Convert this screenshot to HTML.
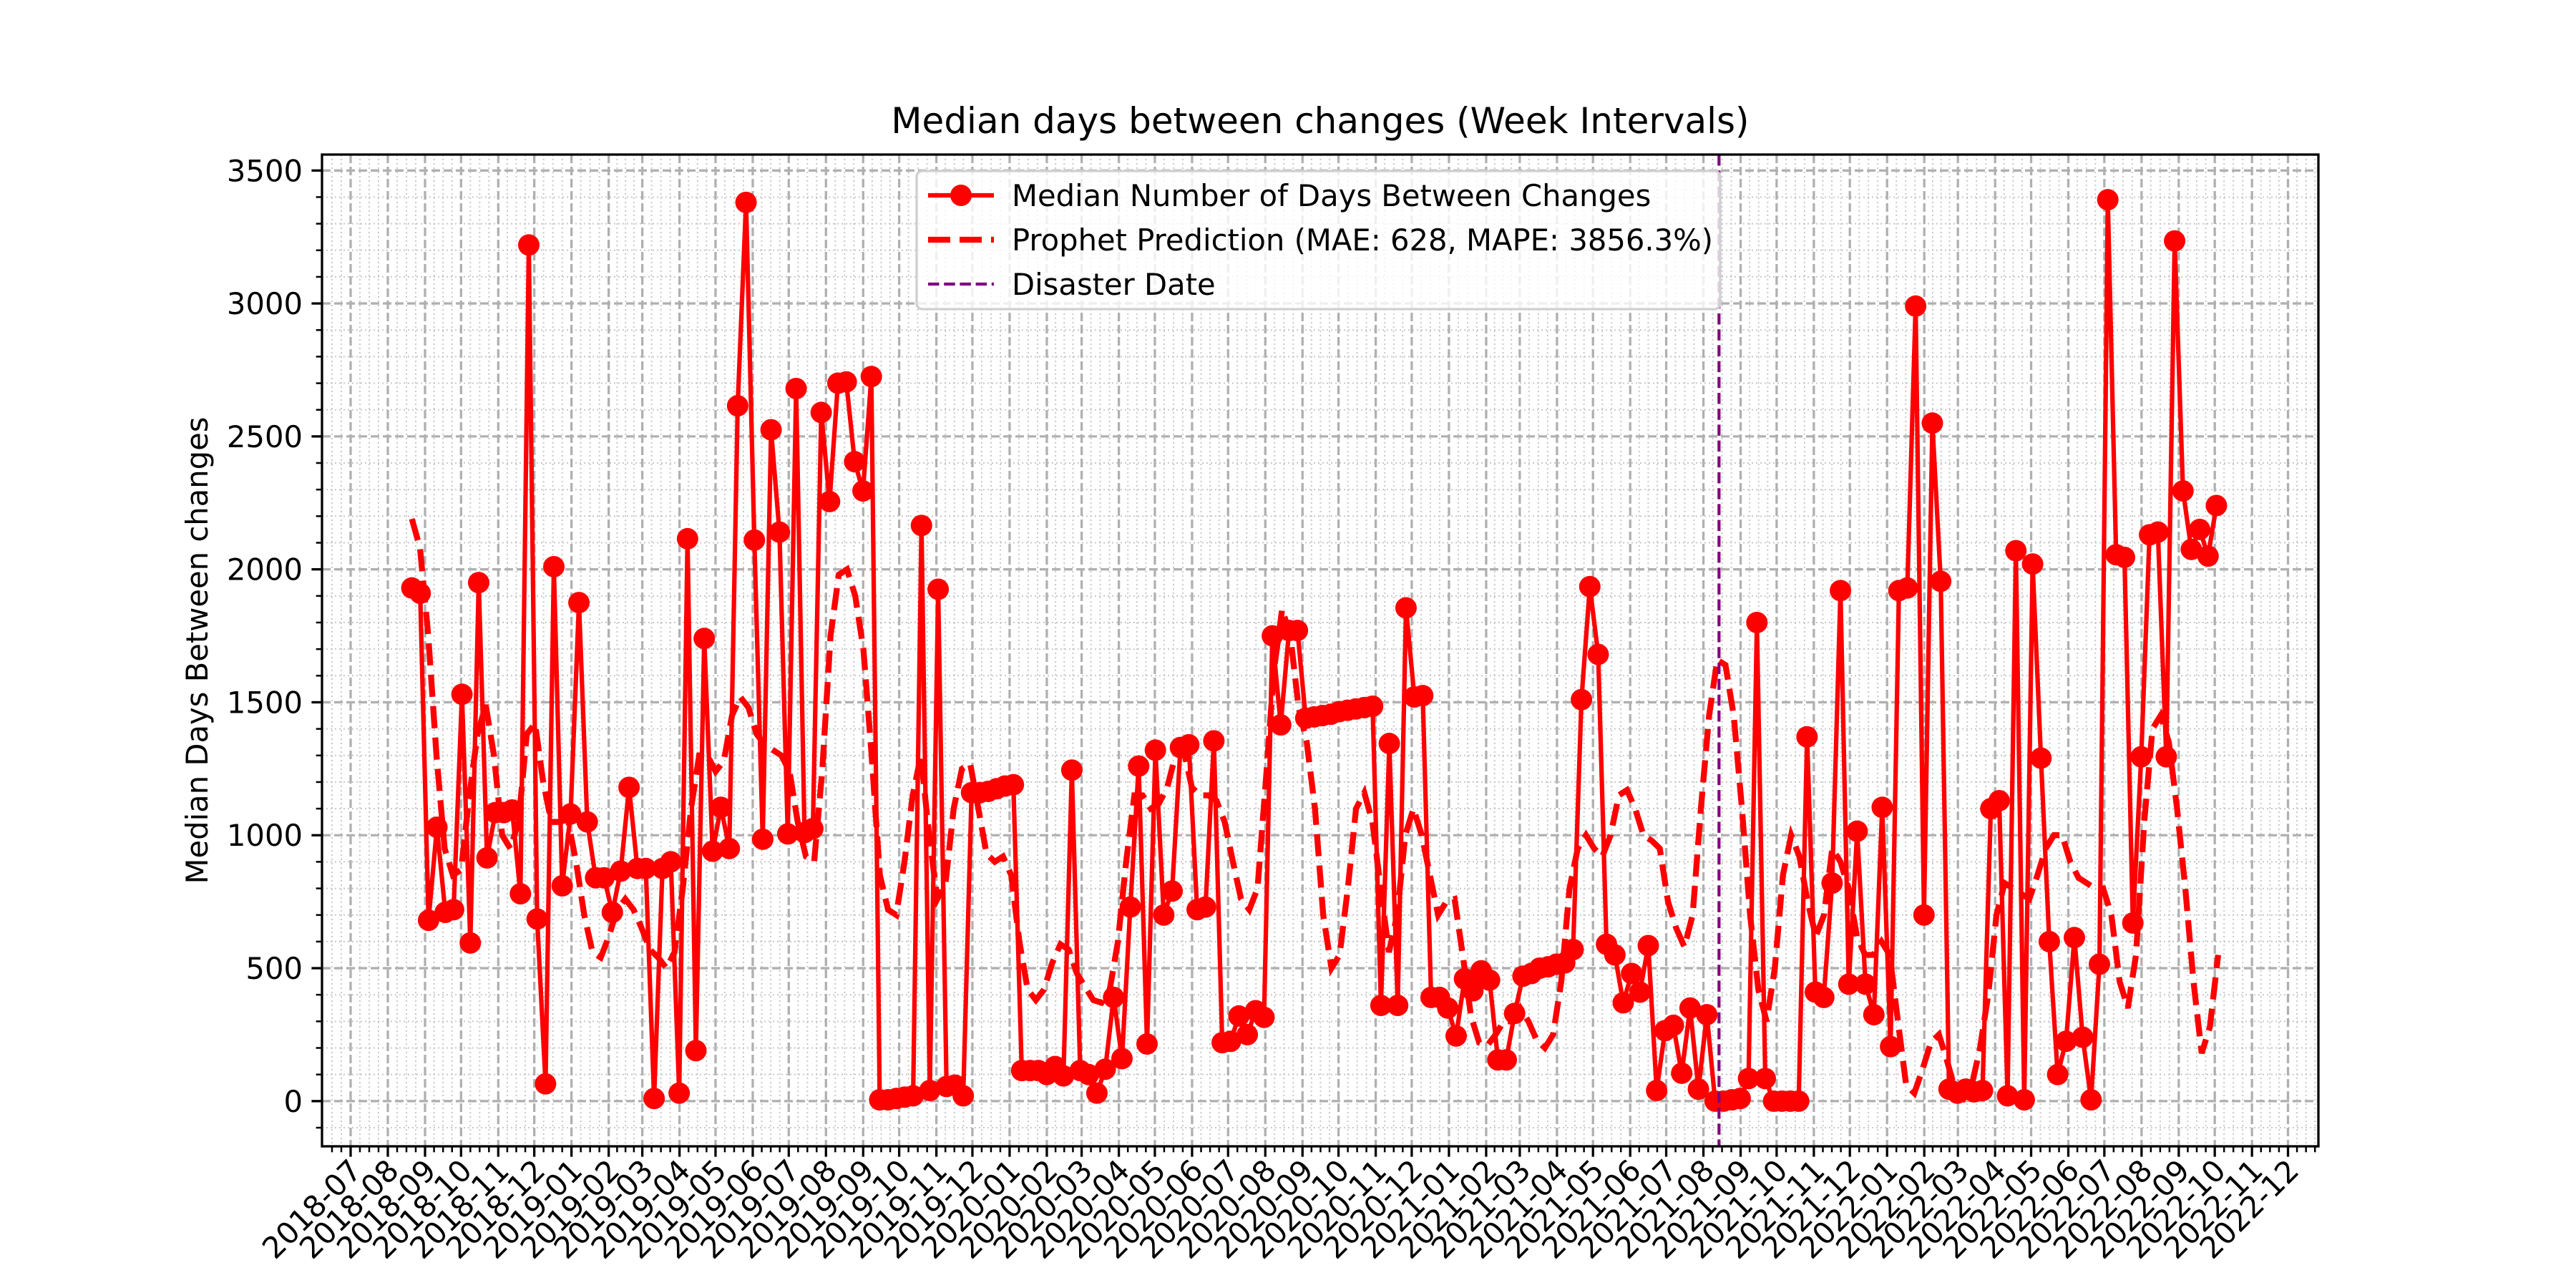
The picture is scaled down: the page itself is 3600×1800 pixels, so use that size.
<!DOCTYPE html>
<html><head><meta charset="utf-8"><style>
html,body{margin:0;padding:0;background:#fff;}
svg{display:block;font-family:"DejaVu Sans","Liberation Sans",sans-serif;}
</style></head><body>
<svg id="chart" width="3600" height="1800" viewBox="0 0 3600 1800" xmlns="http://www.w3.org/2000/svg">
<rect x="0" y="0" width="3600" height="1800" fill="#fff"/>
<text x="1845" y="186" font-size="50" text-anchor="middle">Median days between changes (Week Intervals)</text>
<text transform="translate(290,909) rotate(-90)" font-size="41.7" text-anchor="middle">Median Days Between changes</text>
<g id="grid"></g><g id="series"></g><g id="axes"></g>
</svg>
<script>
const dataStart = "2018-08-21";
const dataStepDays = 6.96;
const medianValues = [1930,1910,680,1030,710,720,1530,595,1950,915,1085,1085,1095,780,3220,685,65,2010,810,1080,1875,1050,840,840,710,865,1180,875,875,10,875,900,30,2115,190,1740,940,1105,950,2615,3380,2110,985,2525,2140,1005,2680,1010,1025,2590,2255,2700,2705,2405,2295,2725,5,5,10,15,20,2165,40,1925,55,60,20,1160,1160,1165,1175,1185,1190,115,115,115,100,130,95,1245,115,100,30,120,390,160,730,1260,215,1320,700,790,1330,1340,720,730,1355,220,225,320,250,340,315,1750,1415,1770,1770,1440,1445,1450,1455,1465,1470,1475,1480,1485,360,1345,360,1855,1520,1525,390,390,350,245,460,415,490,455,155,155,330,470,480,500,505,515,520,570,1510,1935,1680,590,550,370,480,410,585,40,265,285,105,350,45,325,0,0,5,10,85,1800,85,0,0,0,0,1370,410,390,820,1920,440,1015,440,325,1105,205,1920,1930,2990,700,2550,1955,45,30,45,35,40,1100,1130,20,2070,5,2020,1290,600,100,225,615,240,5,515,3390,2055,2045,670,1295,2130,2140,1295,3235,2295,2075,2150,2050,2240];
const prophetStart = "2018-08-21";
const prophetStepDays = 6.84;
const prophetValues = [2190,2080,1750,1300,950,850,870,1150,1380,1490,1300,1000,950,1050,1380,1420,1200,1050,1050,1060,900,700,560,540,620,720,760,720,650,570,540,500,560,800,1100,1300,1300,1240,1280,1450,1520,1480,1380,1340,1320,1300,1240,1050,920,900,1250,1750,1980,2000,1900,1700,1300,850,720,700,900,1150,1300,1000,760,820,1100,1250,1270,1100,930,900,920,850,600,420,380,420,520,590,570,480,430,380,370,420,600,900,1150,1150,1100,1120,1180,1300,1320,1180,1150,1150,1130,1050,900,760,720,800,1200,1620,1850,1750,1480,1350,1100,700,500,550,800,1100,1160,1050,800,560,700,1000,1100,1000,850,700,750,760,550,320,220,210,250,300,300,350,300,230,200,250,450,800,950,1000,950,920,1000,1150,1170,1100,1000,980,950,750,650,580,700,1100,1450,1660,1640,1450,1100,700,420,300,500,850,1000,920,750,620,700,950,900,800,620,550,550,600,550,300,60,30,120,220,250,150,40,10,60,200,400,700,820,800,780,760,850,950,1000,1000,900,840,820,800,800,700,450,350,550,1050,1400,1450,1350,1100,800,450,180,280,550];
const disasterDate = "2021-08-14";
const yTicks = [0,500,1000,1500,2000,2500,3000,3500];
const xTickMonths = ["2018-07","2018-08","2018-09","2018-10","2018-11","2018-12","2019-01","2019-02","2019-03","2019-04","2019-05","2019-06","2019-07","2019-08","2019-09","2019-10","2019-11","2019-12","2020-01","2020-02","2020-03","2020-04","2020-05","2020-06","2020-07","2020-08","2020-09","2020-10","2020-11","2020-12","2021-01","2021-02","2021-03","2021-04","2021-05","2021-06","2021-07","2021-08","2021-09","2021-10","2021-11","2021-12","2022-01","2022-02","2022-03","2022-04","2022-05","2022-06","2022-07","2022-08","2022-09","2022-10","2022-11","2022-12"];

const NS="http://www.w3.org/2000/svg";
const L=450,R=3240,T=216,B=1602;
const ORIGIN=Date.UTC(2018,6,1), DAY=86400000;
const X0=490, PXD=(3197.5-490)/((Date.UTC(2022,11,1)-ORIGIN)/DAY);
const YMIN=-170,YMAX=3560;
function parseD(s){const p=s.split("-").map(Number);return Date.UTC(p[0],p[1]-1,p[2]||1);}
function xs(t){return X0+(t-ORIGIN)/DAY*PXD;}
function ys(v){return B-(v-YMIN)/(YMAX-YMIN)*(B-T);}
function mk(tag,attrs,parent){const e=document.createElementNS(NS,tag);for(const k in attrs)e.setAttribute(k,attrs[k]);parent.appendChild(e);return e;}
const grid=document.getElementById("grid"),series=document.getElementById("series"),axes=document.getElementById("axes");

const monthX=xTickMonths.map(m=>xs(parseD(m)));
const minorX=[];
for(let i=0;i<monthX.length-1;i++){const s=(monthX[i+1]-monthX[i])/4;for(let k=1;k<4;k++)minorX.push(monthX[i]+s*k);}
minorX.push(monthX[0]-(monthX[1]-monthX[0])/4*1,monthX[0]-(monthX[1]-monthX[0])/4*2);
const lastS=(monthX[monthX.length-1]-monthX[monthX.length-2])/4;
minorX.push(monthX[monthX.length-1]+lastS,monthX[monthX.length-1]+2*lastS,monthX[monthX.length-1]+3*lastS);
for(const x of minorX){if(x<L||x>R)continue;
 const g=mk("line",{x1:x,x2:x,y1:T,y2:B,stroke:"#c8c8c8","stroke-width":2,"stroke-dasharray":"2 4"},grid);
 
 mk("line",{x1:x,x2:x,y1:B,y2:B+8.3,stroke:"#000","stroke-width":2.5},axes);}
for(let v=-100;v<=3500;v+=100){if(v%500===0)continue;const y=ys(v);
 const g=mk("line",{x1:L,x2:R,y1:y,y2:y,stroke:"#c8c8c8","stroke-width":2,"stroke-dasharray":"2 4"},grid);
 
 mk("line",{x1:L-8.3,x2:L,y1:y,y2:y,stroke:"#000","stroke-width":2.5},axes);}
xTickMonths.forEach((m,i)=>{const x=monthX[i];
 const g=mk("line",{x1:x,x2:x,y1:T,y2:B,stroke:"#b0b0b0","stroke-width":3.3,"stroke-dasharray":"12 5"},grid);
 
 mk("line",{x1:x,x2:x,y1:B,y2:B+14.6,stroke:"#000","stroke-width":3.3},axes);
 const t=mk("text",{transform:`translate(${x-44},${B+98}) rotate(-45)`,"font-size":41.7,"text-anchor":"middle"},axes);
 
 t.textContent=m;});
yTicks.forEach(v=>{const y=ys(v);
 const g=mk("line",{x1:L,x2:R,y1:y,y2:y,stroke:"#b0b0b0","stroke-width":3.3,"stroke-dasharray":"12 5"},grid);
 
 mk("line",{x1:L-14.6,x2:L,y1:y,y2:y,stroke:"#000","stroke-width":3.3},axes);
 const t=mk("text",{x:L-27,y:y+15,"font-size":41.7,"text-anchor":"end"},axes);
 
 t.textContent=v;});
const frame=mk("rect",{x:L,y:T,width:R-L,height:B-T,fill:"none",stroke:"#000","stroke-width":3.3},axes);


const ps=parseD(prophetStart);
const pp=prophetValues.map((v,i)=>xs(ps+i*prophetStepDays*DAY).toFixed(1)+","+ys(v).toFixed(1)).join(" ");
const pl=mk("polyline",{points:pp,fill:"none",stroke:"#ff0000","stroke-width":8.3,"stroke-dasharray":"31 13"},series);

const ms=parseD(dataStart);
const mp=medianValues.map((v,i)=>[xs(ms+i*dataStepDays*DAY),ys(v)]);
const ml=mk("polyline",{points:mp.map(p=>p[0].toFixed(1)+","+p[1].toFixed(1)).join(" "),fill:"none",stroke:"#ff0000","stroke-width":6.25,"stroke-linejoin":"round"},series);

mp.forEach(p=>{const c=mk("circle",{cx:p[0],cy:p[1],r:15,fill:"#ff0000"},series);
 });
const dx=xs(parseD(disasterDate));
const dl=mk("line",{x1:dx,x2:dx,y1:T,y2:B,stroke:"#800080","stroke-width":4.2,"stroke-dasharray":"15.5 6.7"},series);


const lg=mk("g",{},axes);

mk("rect",{x:1281,y:239,width:1123,height:193,rx:8,fill:"#fff","fill-opacity":0.8,stroke:"#d0d0d0","stroke-width":3.3},lg);
const entries=[["Median Number of Days Between Changes","solid"],["Prophet Prediction (MAE: 628, MAPE: 3856.3%)","dash"],["Disaster Date","purple"]];
entries.forEach((e,i)=>{const y=273+i*62;
 const g=mk("g",{},lg);
 
 if(e[1]==="solid"){mk("line",{x1:1297,x2:1389,y1:y,y2:y,stroke:"#ff0000","stroke-width":6.25},g);mk("circle",{cx:1343,cy:y,r:15,fill:"#ff0000"},g);}
 else if(e[1]==="dash"){mk("line",{x1:1297,x2:1389,y1:y,y2:y,stroke:"#ff0000","stroke-width":8.3,"stroke-dasharray":"31 13"},g);}
 else{mk("line",{x1:1297,x2:1389,y1:y,y2:y,stroke:"#800080","stroke-width":4.2,"stroke-dasharray":"15.5 6.7"},g);}
 const t=mk("text",{x:1414,y:y+15,"font-size":41.7},g);t.textContent=e[0];});
</script>
</body></html>
